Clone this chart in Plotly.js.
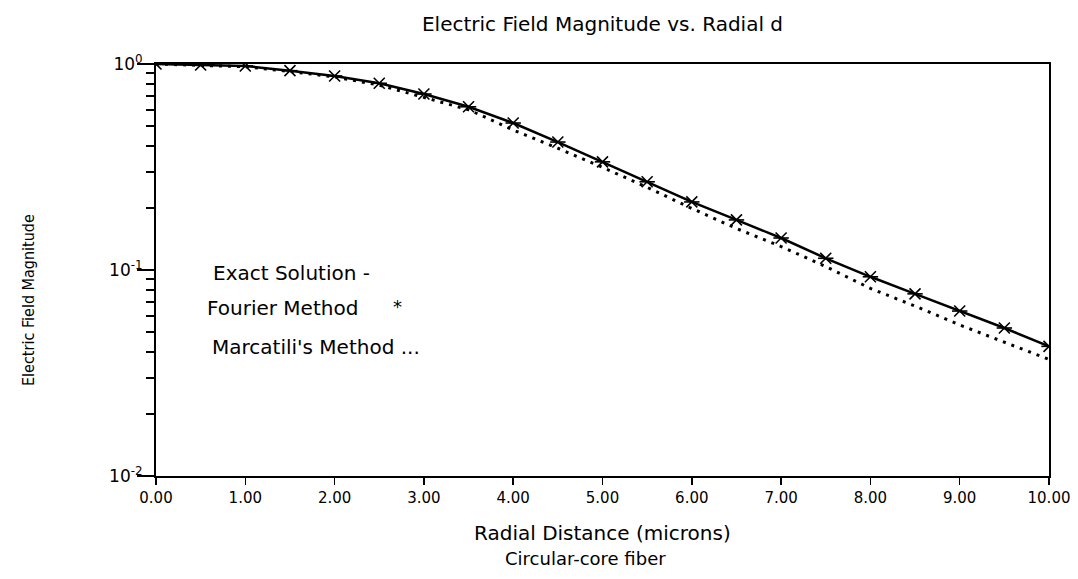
<!DOCTYPE html>
<html>
<head>
<meta charset="utf-8">
<script src="https://cdn.plot.ly/plotly-3.0.1.min.js"></script>
<style>html,body{margin:0;padding:0;background:#fff;}#chart{width:1078px;height:579px;}</style>
</head>
<body>
<div id="chart"></div>
<script>
// Radial distance (microns)
const radialDistance = [0, 0.5, 1, 1.5, 2, 2.5, 3, 3.5, 4, 4.5, 5, 5.5, 6, 6.5, 7, 7.5, 8, 8.5, 9, 9.5, 10];
// Exact solution - Fourier method (solid line with star markers)
const fourierField = [1.0, 0.989, 0.978, 0.928, 0.875, 0.806, 0.715, 0.620, 0.517, 0.418, 0.335, 0.268, 0.214, 0.175, 0.143, 0.114, 0.0927, 0.0766, 0.0632, 0.0523, 0.0426];
// Marcatili's method (dotted line)
const marcatiliField = [1.0, 0.985, 0.970, 0.920, 0.865, 0.790, 0.690, 0.600, 0.478, 0.390, 0.315, 0.252, 0.199, 0.159, 0.130, 0.104, 0.0814, 0.0668, 0.0541, 0.0448, 0.0368];
// Axis ticks
const yMajorVals = [0.01, 0.1, 1];
const yMajorText = ["10<sup>-2</sup>", "10<sup>-1</sup>", "10<sup>0</sup>"];
const legendLines = ["Exact Solution -", "Fourier Method", "Marcatili's Method ..."];

// all y tick positions (decades and 2..9 within each decade); labels only on decades
const yAllVals = [], yAllText = [];
[0.01, 0.1].forEach(d => {
  for (let k = 1; k <= 9; k++) {
    yAllVals.push(k * d);
    yAllText.push(k === 1 ? yMajorText[yMajorVals.indexOf(d)] : '');
  }
});
yAllVals.push(1); yAllText.push(yMajorText[2]);

const W = 1078, H = 579, L = 156, R = 29, T = 64, B = 103;
const pw = W - L - R, ph = H - T - B;
const px = x => (x - L) / pw;
const py = y => (H - B - y) / ph;

const mainFont = "DejaVu Sans, Liberation Sans, sans-serif";

const traces = [
  {
    x: radialDistance, y: marcatiliField, mode: 'lines', type: 'scatter',
    line: {color: '#000', width: 3, dash: '3px,6px'}, name: "Marcatili's Method", hoverinfo: 'skip'
  },
  {
    x: radialDistance, y: fourierField, mode: 'lines+markers', type: 'scatter',
    line: {color: '#000', width: 2.5},
    marker: {symbol: 'x-thin-open', size: 11, color: '#000', line: {color: '#000', width: 1.6}},
    name: 'Fourier Method'
  },
  {
    x: radialDistance, y: fourierField, mode: 'markers', type: 'scatter',
    marker: {symbol: 'line-ew-open', size: 11, color: '#000', line: {color: '#000', width: 1.6}},
    name: 'Fourier Method', hoverinfo: 'skip'
  },
  {x: [], y: [], yaxis: 'y2', type: 'scatter', mode: 'lines', hoverinfo: 'skip', showlegend: false}
];

const layout = {
  width: W, height: H, autosize: false,
  margin: {l: L, r: R, t: T, b: B, pad: 0},
  paper_bgcolor: '#fff', plot_bgcolor: '#fff',
  showlegend: false,
  font: {family: mainFont, color: '#000'},
  title: {
    text: 'Electric Field Magnitude vs. Radial d',
    font: {family: mainFont, size: 20, color: '#000'},
    xref: 'paper', x: 0.5, xanchor: 'center',
    yref: 'container', y: 1 - 24 / H, yanchor: 'middle'
  },
  xaxis: {
    range: [0, 10], dtick: 1, tick0: 0, tickformat: '.2f',
    showgrid: false, zeroline: false,
    showline: true, linecolor: '#000', linewidth: 2, mirror: true,
    ticks: 'outside', ticklen: 7, tickwidth: 1.5, tickcolor: '#000',
    tickfont: {family: mainFont, size: 15, color: '#000'}
  },
  yaxis: {
    type: 'log', range: [-2, 0],
    tickmode: 'array', tickvals: yAllVals, ticktext: yAllText,
    showgrid: false, zeroline: false,
    showline: true, linecolor: '#000', linewidth: 2, mirror: true,
    ticks: 'outside', ticklen: 8, tickwidth: 2, tickcolor: '#000',
    tickfont: {family: mainFont, size: 17, color: '#000'}
  },
  yaxis2: {
    type: 'log', range: [-2, 0], overlaying: 'y', side: 'left', anchor: 'x',
    tickmode: 'array', tickvals: yMajorVals, showticklabels: false,
    showgrid: false, zeroline: false, showline: false,
    ticks: 'outside', ticklen: 18, tickwidth: 2, tickcolor: '#000'
  },
  annotations: [
    {text: 'Radial Distance (microns)', xref: 'paper', yref: 'paper', x: px(602), y: py(533),
     xanchor: 'center', yanchor: 'middle', showarrow: false, font: {family: mainFont, size: 20, color: '#000'}},
    {text: 'Circular-core fiber', xref: 'paper', yref: 'paper', x: px(585), y: py(558),
     xanchor: 'center', yanchor: 'middle', showarrow: false, font: {family: mainFont, size: 18, color: '#000'}},
    {text: 'Electric Field Magnitude', xref: 'paper', yref: 'paper', x: px(28), y: py(300),
     xanchor: 'center', yanchor: 'middle', textangle: -90, showarrow: false,
     font: {family: 'Liberation Sans Narrow, DejaVu Sans Condensed, Roboto Condensed, sans-serif', size: 16, color: '#000'}},
    {text: legendLines[0], xref: 'paper', yref: 'paper', x: px(211), y: py(273),
     xanchor: 'left', yanchor: 'middle', showarrow: false, font: {family: mainFont, size: 20, color: '#000'}},
    {text: legendLines[1], xref: 'paper', yref: 'paper', x: px(205), y: py(308),
     xanchor: 'left', yanchor: 'middle', showarrow: false, font: {family: mainFont, size: 20, color: '#000'}},
    {text: '*', xref: 'paper', yref: 'paper', x: px(397), y: py(306),
     xanchor: 'center', yanchor: 'middle', showarrow: false, font: {family: mainFont, size: 18, color: '#000'}},
    {text: legendLines[2], xref: 'paper', yref: 'paper', x: px(210), y: py(347),
     xanchor: 'left', yanchor: 'middle', showarrow: false, font: {family: mainFont, size: 20, color: '#000'}}
  ]
};

Plotly.newPlot('chart', traces, layout, {displayModeBar: false, staticPlot: true});
</script>
</body>
</html>
